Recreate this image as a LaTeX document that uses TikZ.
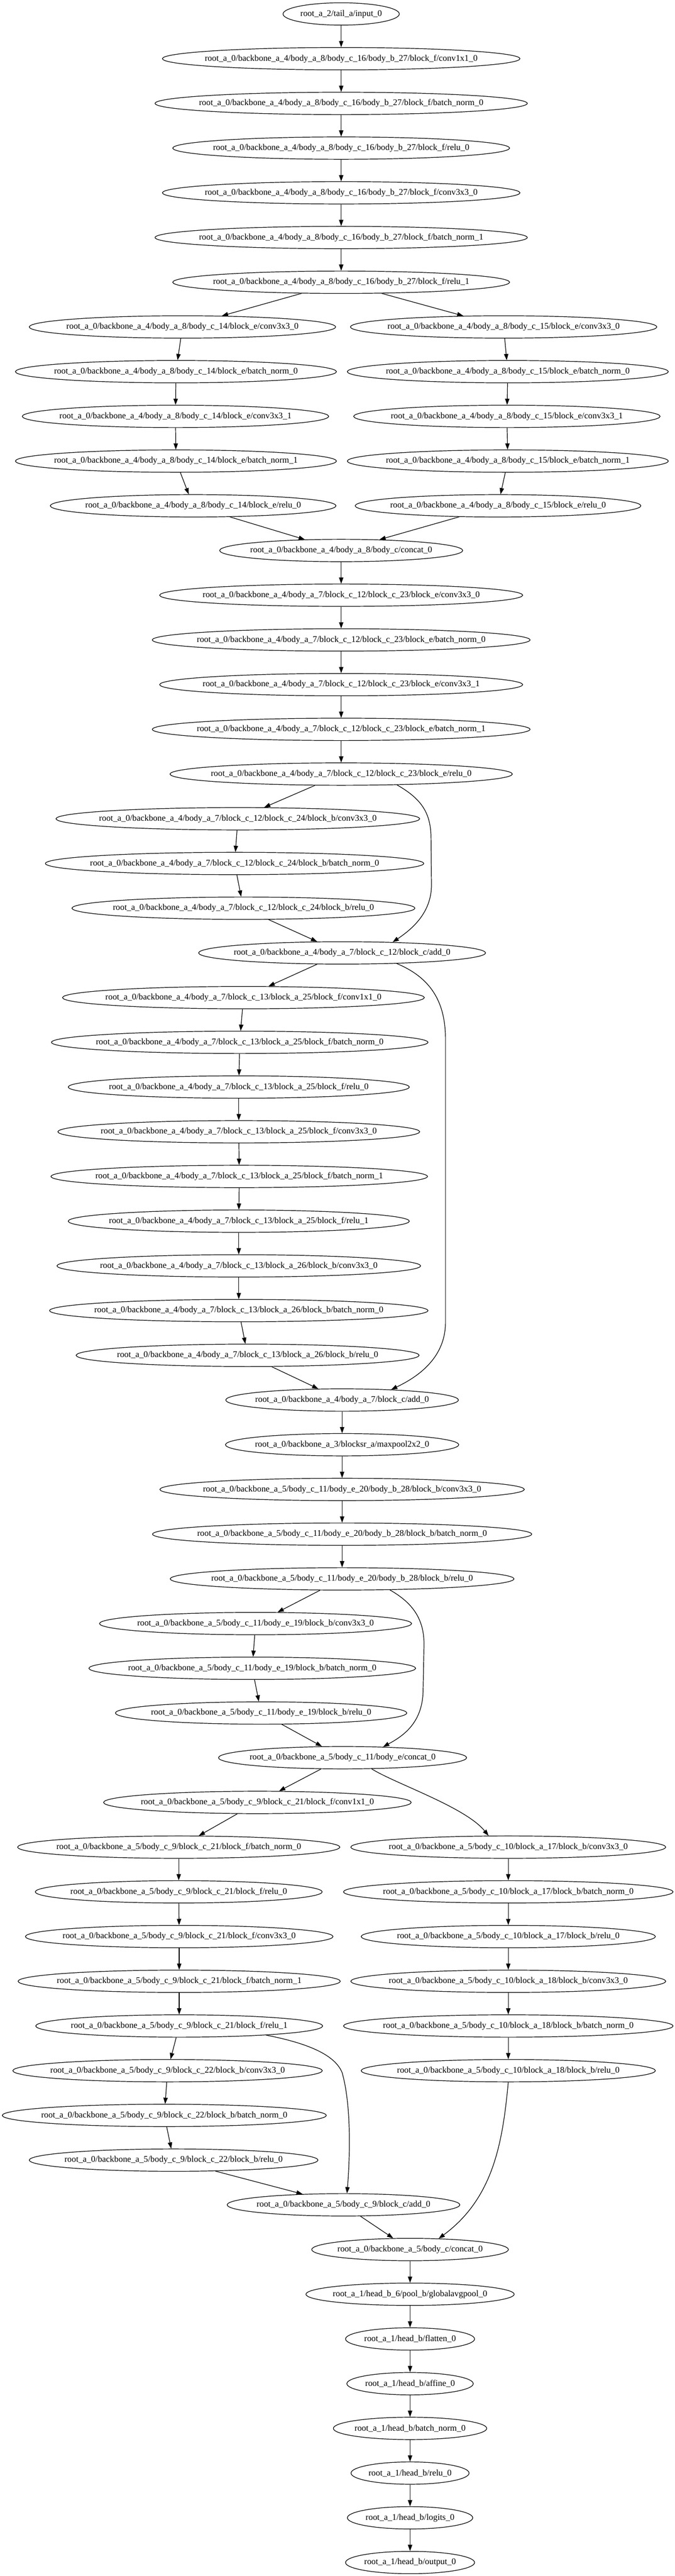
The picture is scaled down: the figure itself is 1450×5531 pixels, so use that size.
\documentclass[tikz,border=0pt]{standalone}
\usepackage{fontspec}
\setmainfont{Liberation Serif}
\usetikzlibrary{arrows.meta,shapes.geometric,calc}
\newcommand\gvfont{\fontsize{14pt}{16.8pt}\selectfont}
\newcommand\gvnode[4]{%
  \node[gvt] (#1t) at (#2,#3) {#4};%
  \path let \p1=($(#1t.east)-(#1t.west)$) in
    node[gvn, minimum width={1.263*\x1+20.84pt}] (#1) at (#2,#3) {};%
}
\begin{document}
\begin{tikzpicture}[x=0.75pt,y=-0.75pt,
  gvt/.style={inner sep=0pt, font=\gvfont},
  gvn/.style={draw, ellipse, inner sep=0pt, minimum height=36pt, line width=1pt},
  gve/.style={-{Triangle[length=10pt,width=7pt]}, line width=1pt}]
\fill[white] (0,0) rectangle (1450,5531);
\useasboundingbox (0,0) rectangle (1450,5531);
% top chain
\gvnode{n0}{733}{30}{root\_a\_2/tail\_a/input\_0}
\gvnode{n1}{733}{126}{root\_a\_0/backbone\_a\_4/body\_a\_8/body\_c\_16/body\_b\_27/block\_f/conv1x1\_0}
\gvnode{n2}{733}{222}{root\_a\_0/backbone\_a\_4/body\_a\_8/body\_c\_16/body\_b\_27/block\_f/batch\_norm\_0}
\gvnode{n3}{733}{318}{root\_a\_0/backbone\_a\_4/body\_a\_8/body\_c\_16/body\_b\_27/block\_f/relu\_0}
\gvnode{n4}{733}{414}{root\_a\_0/backbone\_a\_4/body\_a\_8/body\_c\_16/body\_b\_27/block\_f/conv3x3\_0}
\gvnode{n5}{733}{510}{root\_a\_0/backbone\_a\_4/body\_a\_8/body\_c\_16/body\_b\_27/block\_f/batch\_norm\_1}
\gvnode{n6}{733}{606}{root\_a\_0/backbone\_a\_4/body\_a\_8/body\_c\_16/body\_b\_27/block\_f/relu\_1}
% branches c14 / c15
\gvnode{a7}{392}{702}{root\_a\_0/backbone\_a\_4/body\_a\_8/body\_c\_14/block\_e/conv3x3\_0}
\gvnode{a8}{378}{798}{root\_a\_0/backbone\_a\_4/body\_a\_8/body\_c\_14/block\_e/batch\_norm\_0}
\gvnode{a9}{377}{894}{root\_a\_0/backbone\_a\_4/body\_a\_8/body\_c\_14/block\_e/conv3x3\_1}
\gvnode{a10}{378}{990}{root\_a\_0/backbone\_a\_4/body\_a\_8/body\_c\_14/block\_e/batch\_norm\_1}
\gvnode{a11}{415}{1086}{root\_a\_0/backbone\_a\_4/body\_a\_8/body\_c\_14/block\_e/relu\_0}
\gvnode{b7}{1082}{702}{root\_a\_0/backbone\_a\_4/body\_a\_8/body\_c\_15/block\_e/conv3x3\_0}
\gvnode{b8}{1091}{798}{root\_a\_0/backbone\_a\_4/body\_a\_8/body\_c\_15/block\_e/batch\_norm\_0}
\gvnode{b9}{1089}{894}{root\_a\_0/backbone\_a\_4/body\_a\_8/body\_c\_15/block\_e/conv3x3\_1}
\gvnode{b10}{1091}{990}{root\_a\_0/backbone\_a\_4/body\_a\_8/body\_c\_15/block\_e/batch\_norm\_1}
\gvnode{b11}{1070}{1086}{root\_a\_0/backbone\_a\_4/body\_a\_8/body\_c\_15/block\_e/relu\_0}
\gvnode{n12}{733}{1182}{root\_a\_0/backbone\_a\_4/body\_a\_8/body\_c/concat\_0}
% body_a_7
\gvnode{n13}{733}{1278}{root\_a\_0/backbone\_a\_4/body\_a\_7/block\_c\_12/block\_c\_23/block\_e/conv3x3\_0}
\gvnode{n14}{733}{1374}{root\_a\_0/backbone\_a\_4/body\_a\_7/block\_c\_12/block\_c\_23/block\_e/batch\_norm\_0}
\gvnode{n15}{733}{1470}{root\_a\_0/backbone\_a\_4/body\_a\_7/block\_c\_12/block\_c\_23/block\_e/conv3x3\_1}
\gvnode{n16}{733}{1566}{root\_a\_0/backbone\_a\_4/body\_a\_7/block\_c\_12/block\_c\_23/block\_e/batch\_norm\_1}
\gvnode{n17}{733}{1662}{root\_a\_0/backbone\_a\_4/body\_a\_7/block\_c\_12/block\_c\_23/block\_e/relu\_0}
\gvnode{n18}{511}{1758}{root\_a\_0/backbone\_a\_4/body\_a\_7/block\_c\_12/block\_c\_24/block\_b/conv3x3\_0}
\gvnode{n19}{504}{1854}{root\_a\_0/backbone\_a\_4/body\_a\_7/block\_c\_12/block\_c\_24/block\_b/batch\_norm\_0}
\gvnode{n20}{523}{1950}{root\_a\_0/backbone\_a\_4/body\_a\_7/block\_c\_12/block\_c\_24/block\_b/relu\_0}
\gvnode{n21}{735}{2046}{root\_a\_0/backbone\_a\_4/body\_a\_7/block\_c\_12/block\_c/add\_0}
\gvnode{n22}{523}{2142}{root\_a\_0/backbone\_a\_4/body\_a\_7/block\_c\_13/block\_a\_25/block\_f/conv1x1\_0}
\gvnode{n23}{515}{2238}{root\_a\_0/backbone\_a\_4/body\_a\_7/block\_c\_13/block\_a\_25/block\_f/batch\_norm\_0}
\gvnode{n24}{513}{2334}{root\_a\_0/backbone\_a\_4/body\_a\_7/block\_c\_13/block\_a\_25/block\_f/relu\_0}
\gvnode{n25}{513}{2430}{root\_a\_0/backbone\_a\_4/body\_a\_7/block\_c\_13/block\_a\_25/block\_f/conv3x3\_0}
\gvnode{n26}{514}{2526}{root\_a\_0/backbone\_a\_4/body\_a\_7/block\_c\_13/block\_a\_25/block\_f/batch\_norm\_1}
\gvnode{n27}{513}{2622}{root\_a\_0/backbone\_a\_4/body\_a\_7/block\_c\_13/block\_a\_25/block\_f/relu\_1}
\gvnode{n28}{513}{2718}{root\_a\_0/backbone\_a\_4/body\_a\_7/block\_c\_13/block\_a\_26/block\_b/conv3x3\_0}
\gvnode{n29}{513}{2814}{root\_a\_0/backbone\_a\_4/body\_a\_7/block\_c\_13/block\_a\_26/block\_b/batch\_norm\_0}
\gvnode{n30}{532}{2910}{root\_a\_0/backbone\_a\_4/body\_a\_7/block\_c\_13/block\_a\_26/block\_b/relu\_0}
\gvnode{n31}{735}{3006}{root\_a\_0/backbone\_a\_4/body\_a\_7/block\_c/add\_0}
\gvnode{n32}{735}{3102}{root\_a\_0/backbone\_a\_3/blocksr\_a/maxpool2x2\_0}
% backbone_a_5
\gvnode{n33}{735}{3198}{root\_a\_0/backbone\_a\_5/body\_c\_11/body\_e\_20/body\_b\_28/block\_b/conv3x3\_0}
\gvnode{n34}{735}{3294}{root\_a\_0/backbone\_a\_5/body\_c\_11/body\_e\_20/body\_b\_28/block\_b/batch\_norm\_0}
\gvnode{n35}{735}{3390}{root\_a\_0/backbone\_a\_5/body\_c\_11/body\_e\_20/body\_b\_28/block\_b/relu\_0}
\gvnode{n36}{549}{3486}{root\_a\_0/backbone\_a\_5/body\_c\_11/body\_e\_19/block\_b/conv3x3\_0}
\gvnode{n37}{542}{3582}{root\_a\_0/backbone\_a\_5/body\_c\_11/body\_e\_19/block\_b/batch\_norm\_0}
\gvnode{n38}{561}{3678}{root\_a\_0/backbone\_a\_5/body\_c\_11/body\_e\_19/block\_b/relu\_0}
\gvnode{n39}{736}{3774}{root\_a\_0/backbone\_a\_5/body\_c\_11/body\_e/concat\_0}
\gvnode{a40}{553}{3870}{root\_a\_0/backbone\_a\_5/body\_c\_9/block\_c\_21/block\_f/conv1x1\_0}
\gvnode{a41}{384}{3966}{root\_a\_0/backbone\_a\_5/body\_c\_9/block\_c\_21/block\_f/batch\_norm\_0}
\gvnode{a42}{384}{4062}{root\_a\_0/backbone\_a\_5/body\_c\_9/block\_c\_21/block\_f/relu\_0}
\gvnode{a43}{385}{4158}{root\_a\_0/backbone\_a\_5/body\_c\_9/block\_c\_21/block\_f/conv3x3\_0}
\gvnode{a44}{385}{4254}{root\_a\_0/backbone\_a\_5/body\_c\_9/block\_c\_21/block\_f/batch\_norm\_1}
\gvnode{a45}{385}{4350}{root\_a\_0/backbone\_a\_5/body\_c\_9/block\_c\_21/block\_f/relu\_1}
\gvnode{a46}{360}{4446}{root\_a\_0/backbone\_a\_5/body\_c\_9/block\_c\_22/block\_b/conv3x3\_0}
\gvnode{a47}{353}{4542}{root\_a\_0/backbone\_a\_5/body\_c\_9/block\_c\_22/block\_b/batch\_norm\_0}
\gvnode{a48}{373}{4638}{root\_a\_0/backbone\_a\_5/body\_c\_9/block\_c\_22/block\_b/relu\_0}
\gvnode{n49}{738}{4734}{root\_a\_0/backbone\_a\_5/body\_c\_9/block\_c/add\_0}
\gvnode{b41}{1092}{3966}{root\_a\_0/backbone\_a\_5/body\_c\_10/block\_a\_17/block\_b/conv3x3\_0}
\gvnode{b42}{1092}{4062}{root\_a\_0/backbone\_a\_5/body\_c\_10/block\_a\_17/block\_b/batch\_norm\_0}
\gvnode{b43}{1092}{4158}{root\_a\_0/backbone\_a\_5/body\_c\_10/block\_a\_17/block\_b/relu\_0}
\gvnode{b44}{1092}{4254}{root\_a\_0/backbone\_a\_5/body\_c\_10/block\_a\_18/block\_b/conv3x3\_0}
\gvnode{b45}{1092}{4350}{root\_a\_0/backbone\_a\_5/body\_c\_10/block\_a\_18/block\_b/batch\_norm\_0}
\gvnode{b46}{1092}{4446}{root\_a\_0/backbone\_a\_5/body\_c\_10/block\_a\_18/block\_b/relu\_0}
\gvnode{n50}{881}{4830}{root\_a\_0/backbone\_a\_5/body\_c/concat\_0}
% head
\gvnode{n51}{881}{4926}{root\_a\_1/head\_b\_6/pool\_b/globalavgpool\_0}
\gvnode{n52}{881}{5022}{root\_a\_1/head\_b/flatten\_0}
\gvnode{n53}{881}{5118}{root\_a\_1/head\_b/affine\_0}
\gvnode{n54}{881}{5214}{root\_a\_1/head\_b/batch\_norm\_0}
\gvnode{n55}{881}{5310}{root\_a\_1/head\_b/relu\_0}
\gvnode{n56}{881}{5406}{root\_a\_1/head\_b/logits\_0}
\gvnode{n57}{881}{5502}{root\_a\_1/head\_b/output\_0}
% straight edges
\foreach \a/\b in {n0/n1,n1/n2,n2/n3,n3/n4,n4/n5,n5/n6,n6/a7,n6/b7,
  a7/a8,a8/a9,a9/a10,a10/a11,a11/n12,b7/b8,b8/b9,b9/b10,b10/b11,b11/n12,
  n12/n13,n13/n14,n14/n15,n15/n16,n16/n17,n17/n18,n18/n19,n19/n20,n20/n21,
  n21/n22,n22/n23,n23/n24,n24/n25,n25/n26,n26/n27,n27/n28,n28/n29,n29/n30,n30/n31,
  n31/n32,n32/n33,n33/n34,n34/n35,n35/n36,n36/n37,n37/n38,n38/n39,
  n39/a40,a40/a41,a41/a42,a42/a43,a43/a44,a44/a45,a45/a46,a46/a47,a47/a48,a48/n49,
  b41/b42,b42/b43,b43/b44,b44/b45,b45/b46,n49/n50,
  n50/n51,n51/n52,n52/n53,n53/n54,n54/n55,n55/n56,n56/n57}
  \draw[gve] (\a) -- (\b);
% curved skip edges
\draw[gve] (n17.-11.5) .. controls (905,1715) and (926,1745) .. (926,1800) -- (927,1900) .. controls (927,1960) and (885,1995) .. (n21.12.7);
\draw[gve] (n21.-11.3) .. controls (915,2095) and (957,2140) .. (957,2230) -- (957,2840) .. controls (957,2920) and (890,2960) .. (n31.12.7);
\draw[gve] (n35.-13.2) .. controls (880,3438) and (911,3470) .. (911,3530) -- (909,3630) .. controls (908,3700) and (865,3728) .. (n39.15.4);
\draw[gve] (n39.-21) .. controls (850,3830) and (1000,3880) .. (b41.150.3);
\draw[gve] (a45.-6.4) .. controls (650,4385) and (718,4408) .. (735,4450) .. controls (755,4520) and (752,4630) .. (n49.73.7);
\draw[gve] (b46.-90) .. controls (1080,4600) and (1060,4720) .. (n50.21.5);
\end{tikzpicture}
\end{document}
